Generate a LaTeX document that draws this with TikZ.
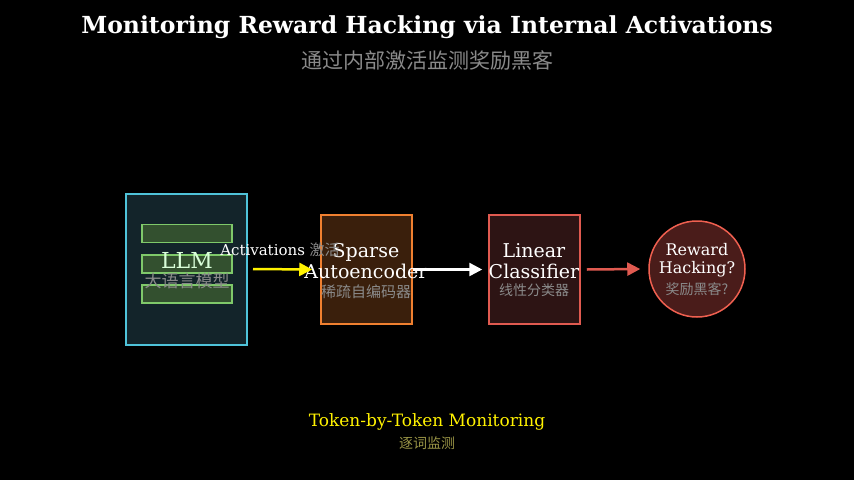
\documentclass[tikz,border=0pt]{standalone}
\usepackage{fontspec}
\setmainfont{DejaVu Serif}
\newfontfamily\cjk{Noto Sans CJK SC}
\usetikzlibrary{positioning,arrows.meta}
\definecolor{llmfill}{HTML}{13242A}
\definecolor{llmedge}{HTML}{4FC3D9}
\definecolor{layerfill}{HTML}{33502F}
\definecolor{layeredge}{HTML}{7FC96A}
\definecolor{saefill}{HTML}{3A1F0C}
\definecolor{saeedge}{HTML}{F08030}
\definecolor{clsfill}{HTML}{2D1414}
\definecolor{clsedge}{HTML}{E05A50}
\definecolor{outfill}{HTML}{4A1C1A}
\definecolor{outedge}{HTML}{F06050}
\definecolor{subgray}{HTML}{8A8A8A}
\begin{document}
\begin{tikzpicture}[x=1pt,y=-1pt,
    box/.style={draw, line width=1.5pt, minimum width=91pt, minimum height=109pt},
    layer/.style={draw=layeredge, fill=layerfill, line width=1.5pt, minimum width=90pt, minimum height=18pt},
    txt/.style={text=white, font=\fontsize{19}{21}\selectfont, align=center},
    cn/.style={text=subgray, font=\cjk\fontsize{17}{18}\selectfont},
    flow/.style={line width=2.5pt, -{Triangle[length=13pt,width=13pt]}}]
    \fill[black] (0,0) rectangle (854,480);

    \node[text=white, font=\bfseries\fontsize{23.5}{25}\selectfont] (title) at (427,27) {Monitoring Reward Hacking via Internal Activations};
    \node[cn, font=\cjk\fontsize{21}{22}\selectfont] (subtitle) at (427,60) {通过内部激活监测奖励黑客};

    % LLM with layers
    \node[box, draw=llmedge, fill=llmfill, minimum width=121pt, minimum height=151pt] (llm) at (186.5,269.5) {};
    \node[layer] (l1) at (187,233.5) {};
    \node[layer] (l2) at (187,264) {};
    \node[layer] (l3) at (187,294) {};
    \node[txt, text=white!85!green, font=\fontsize{22}{24}\selectfont] (llmt) at (187,260) {LLM};
    \node[cn] (llmc) at (187,281) {大语言模型};

    % SAE
    \node[box, draw=saeedge, fill=saefill] (sae) at (366.5,269.5) {};
    \node[txt] (saet) at (366,261) {Sparse\\Autoencoder};
    \node[cn, font=\cjk\fontsize{15}{16}\selectfont] (saec) at (366,292) {稀疏自编码器};

    % classifier
    \node[box, draw=clsedge, fill=clsfill] (cls) at (534.5,269.5) {};
    \node[txt] (clst) at (534,261) {Linear\\Classifier};
    \node[cn, font=\cjk\fontsize{14}{15}\selectfont] (clsc) at (534,290) {线性分类器};

    % output
    \node[draw=outedge, fill=outfill, line width=1.5pt, circle, minimum size=96pt] (out) at (697,269) {};
    \node[txt, font=\fontsize{16}{18}\selectfont] (outt) at (697,260) {Reward\\Hacking?};
    \node[cn, font=\cjk\fontsize{14}{15}\selectfont] (outc) at (697,289) {奖励黑客?};

    % arrows
    \coordinate (a0) at (253,269);
    \draw[flow, yellow] (a0) -- ([xshift=-8pt]sae.west);
    \node[text=white, font=\fontsize{15}{16}\selectfont] (act) at (280,250) {Activations {\cjk\color{subgray}激活}};
    \draw[flow, white] (sae.east) -- ([xshift=-6pt]cls.west);
    \draw[flow, clsedge] ([xshift=6pt]cls.east) -- ([xshift=-8pt]out.west);

    \node[text=yellow, font=\fontsize{17}{18}\selectfont] (mon) at (427,422) {Token-by-Token Monitoring};
    \node[cn, text=yellow!55!black, font=\cjk\fontsize{14}{15}\selectfont] (monc) at (427,443) {逐词监测};
\end{tikzpicture}
\end{document}
